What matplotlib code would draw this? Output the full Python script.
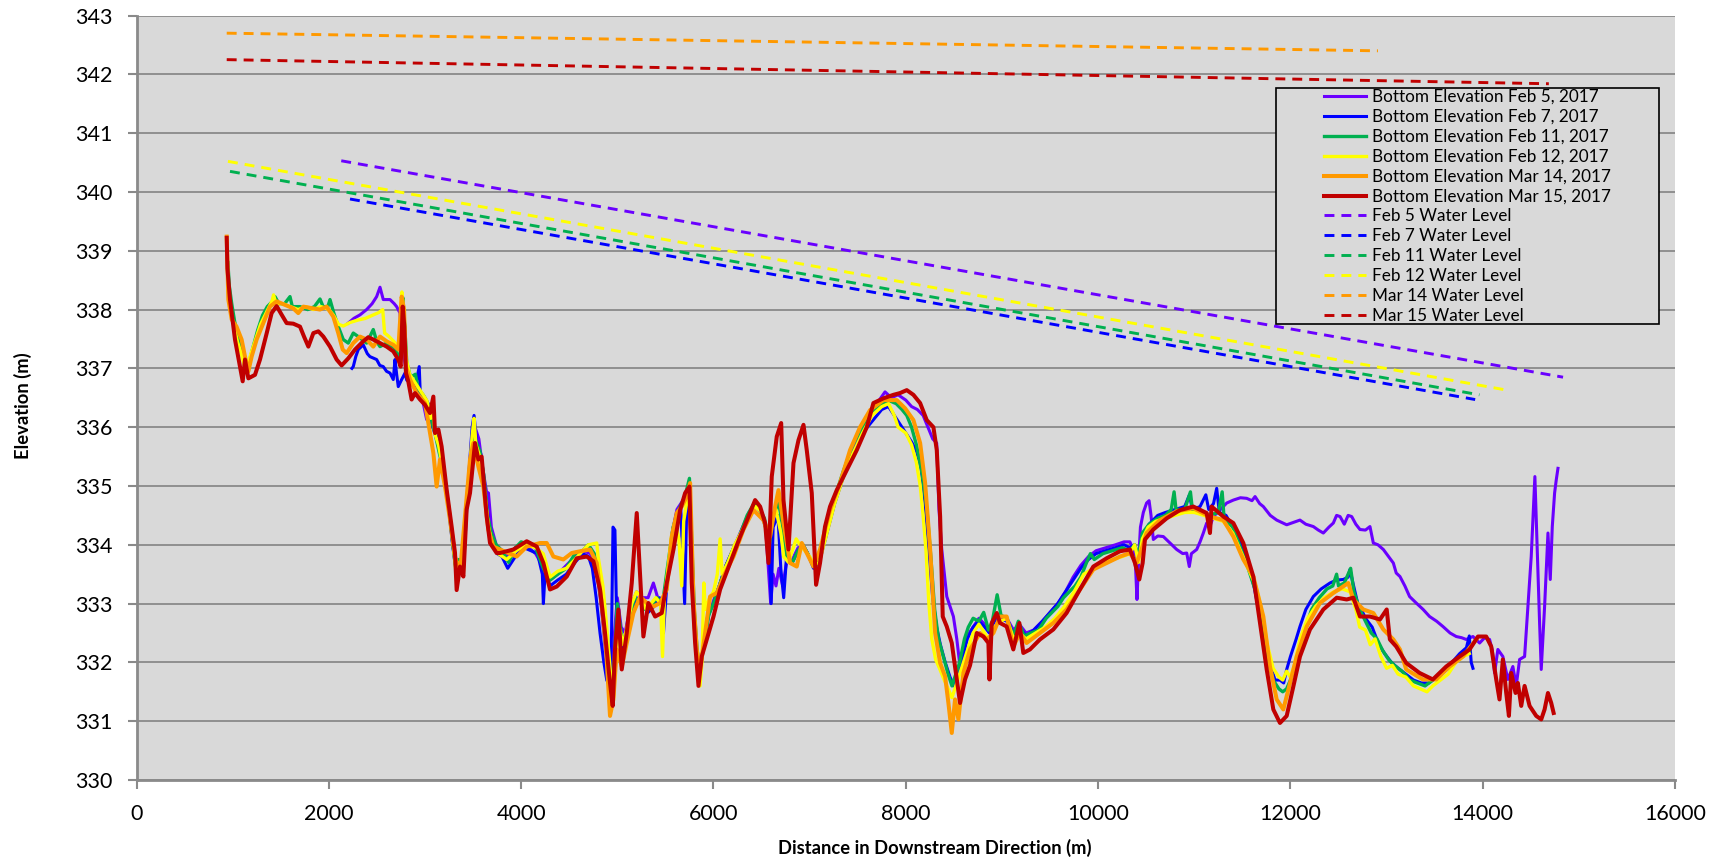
''' Bottom elevation profiles and water levels along the reach,
    surveyed on several dates in Feb/Mar 2017 '''

import matplotlib
matplotlib.use("Agg")
import matplotlib.pyplot as plt
from matplotlib.patches import Rectangle

# bed profiles: (distance m, elevation m)
feb5_bed = [(2202, 337.77), (2260, 337.85), (2324, 337.91), (2393, 338.0), (2450, 338.1), (2497, 338.22),
            (2532, 338.38), (2566, 338.17), (2636, 338.17), (2680, 338.1), (2705, 338.05), (2740, 337.94),
            (2750, 337.6), (2770, 337.3), (2800, 337.0), (2840, 336.8), (2880, 336.7), (2920, 336.6),
            (2970, 336.5), (3017, 336.13), (3040, 336.3), (3080, 336.0), (3120, 335.8), (3160, 335.55),
            (3200, 335.2), (3250, 334.6), (3290, 334.0), (3320, 333.6), (3350, 333.7), (3390, 333.6),
            (3420, 334.5), (3460, 335.2), (3490, 335.9), (3520, 336.0), (3560, 335.8), (3600, 335.3),
            (3640, 334.9), (3660, 334.88), (3690, 334.3), (3740, 334.0), (3800, 333.9), (3870, 333.8),
            (3940, 333.95), (4000, 334.0), (4080, 333.95), (4150, 333.85), (4220, 333.65), (4300, 333.4),
            (4380, 333.5), (4470, 333.65), (4560, 333.8), (4640, 333.9), (4720, 333.85), (4780, 333.6),
            (4830, 333.0), (4870, 332.3), (4910, 331.8), (4940, 331.8), (4970, 332.5), (5000, 333.1),
            (5040, 332.6), (5080, 332.5), (5130, 332.9), (5200, 333.2), (5260, 333.1), (5320, 333.1),
            (5375, 333.35), (5420, 333.1), (5470, 332.95), (5520, 333.5), (5570, 334.2), (5620, 334.6),
            (5660, 334.7), (5700, 334.8), (5740, 334.9), (5775, 333.8), (5800, 332.8), (5830, 332.1),
            (5860, 331.9), (5900, 332.3), (5950, 332.8), (6000, 333.05), (6060, 333.3), (6130, 333.65),
            (6210, 333.95), (6290, 334.25), (6370, 334.55), (6430, 334.7), (6490, 334.6), (6540, 334.35),
            (6570, 333.6), (6595, 333.0), (6620, 333.5), (6650, 333.3), (6680, 333.6), (6720, 333.3),
            (6760, 333.7), (6820, 333.75), (6880, 333.95), (6930, 334.0), (6980, 333.85), (7040, 333.65),
            (7100, 333.75), (7180, 334.25), (7260, 334.75), (7350, 335.2), (7450, 335.65), (7550, 336.0),
            (7650, 336.3), (7720, 336.45), (7784, 336.6), (7850, 336.5), (7920, 336.55), (8000, 336.46),
            (8060, 336.35), (8120, 336.3), (8180, 336.2), (8230, 336.0), (8280, 335.8), (8321, 335.73),
            (8345, 334.6), (8374, 333.92), (8426, 333.12), (8495, 332.78), (8530, 332.4), (8564, 331.93),
            (8600, 332.1), (8634, 332.44), (8700, 332.6), (8760, 332.75), (8820, 332.65), (8870, 332.5),
            (8920, 332.7), (8980, 332.8), (9050, 332.75), (9120, 332.55), (9180, 332.65), (9250, 332.5),
            (9330, 332.55), (9420, 332.7), (9500, 332.85), (9580, 333.0), (9660, 333.2), (9740, 333.45),
            (9820, 333.65), (9900, 333.8), (9980, 333.9), (10080, 333.95), (10180, 334.0), (10270, 334.05),
            (10330, 334.05), (10370, 333.9), (10390, 333.6), (10404, 333.07), (10420, 333.7), (10440, 334.3),
            (10470, 334.55), (10504, 334.71), (10530, 334.75), (10550, 334.5), (10574, 334.09), (10620, 334.15),
            (10678, 334.14), (10747, 334.03), (10817, 333.92), (10880, 333.85), (10921, 333.86), (10948, 333.63),
            (10970, 333.85), (11025, 333.92), (11060, 334.05), (11094, 334.2), (11129, 334.37), (11160, 334.3),
            (11198, 334.48), (11267, 334.59), (11337, 334.71), (11406, 334.76), (11480, 334.8), (11545, 334.79),
            (11600, 334.75), (11632, 334.82), (11680, 334.7), (11718, 334.65), (11790, 334.5), (11857, 334.42),
            (11910, 334.38), (11961, 334.34), (12030, 334.38), (12099, 334.42), (12160, 334.35), (12238, 334.31),
            (12290, 334.25), (12342, 334.2), (12400, 334.3), (12446, 334.37), (12480, 334.5), (12516, 334.48),
            (12560, 334.35), (12600, 334.5), (12637, 334.48), (12680, 334.35), (12723, 334.26), (12780, 334.25),
            (12827, 334.31), (12862, 334.03), (12910, 334.0), (12966, 333.92), (13020, 333.8), (13070, 333.69),
            (13100, 333.52), (13139, 333.46), (13190, 333.3), (13239, 333.12), (13308, 333.01), (13380, 332.9),
            (13447, 332.78), (13520, 332.7), (13586, 332.61), (13660, 332.5), (13724, 332.44), (13780, 332.42),
            (13828, 332.39), (13898, 332.44), (13967, 332.33), (14020, 332.42), (14071, 332.39), (14100, 332.2),
            (14123, 331.82), (14157, 332.22), (14209, 332.1), (14261, 331.71), (14313, 331.93), (14348, 331.6),
            (14383, 332.05), (14435, 332.1), (14469, 332.95), (14504, 333.8), (14528, 334.65), (14542, 335.16),
            (14563, 334.08), (14591, 332.67), (14608, 331.88), (14643, 332.95), (14678, 334.2), (14702, 333.41),
            (14723, 334.31), (14747, 334.88), (14764, 335.1), (14782, 335.3)]

feb7_bed = [(2240, 337.0), (2254, 337.03), (2280, 337.2), (2306, 337.32), (2358, 337.4), (2400, 337.25),
            (2427, 337.2), (2497, 337.15), (2530, 337.05), (2566, 337.03), (2600, 336.95), (2636, 336.92),
            (2670, 336.81), (2688, 337.15), (2705, 336.9), (2722, 336.69), (2757, 336.81), (2792, 336.92),
            (2810, 336.8), (2850, 336.75), (2900, 336.7), (2940, 337.03), (2950, 336.6), (3000, 336.5),
            (3050, 336.35), (3080, 336.0), (3110, 335.9), (3150, 335.65), (3190, 335.3), (3240, 334.7),
            (3280, 334.1), (3310, 333.7), (3340, 333.5), (3370, 333.6), (3400, 333.6), (3430, 334.5),
            (3460, 335.3), (3490, 336.0), (3510, 336.2), (3540, 335.7), (3580, 335.55), (3620, 335.0),
            (3660, 334.4), (3700, 334.0), (3750, 333.85), (3800, 333.8), (3860, 333.6), (3900, 333.7),
            (3960, 333.85), (4030, 333.95), (4100, 333.9), (4170, 333.85), (4220, 333.5), (4231, 333.0),
            (4250, 333.55), (4300, 333.3), (4380, 333.4), (4470, 333.5), (4560, 333.7), (4640, 333.85),
            (4700, 333.8), (4740, 333.6), (4780, 333.1), (4820, 332.5), (4860, 332.0), (4890, 331.7),
            (4920, 331.6), (4940, 332.5), (4955, 334.3), (4975, 334.25), (4990, 333.0), (5020, 332.6),
            (5060, 332.2), (5100, 332.5), (5150, 332.9), (5200, 333.1), (5260, 333.0), (5320, 332.85),
            (5380, 332.95), (5440, 333.1), (5480, 332.5), (5510, 333.2), (5560, 334.0), (5610, 334.5),
            (5660, 334.6), (5700, 333.0), (5720, 334.5), (5750, 334.8), (5775, 334.0), (5800, 332.6),
            (5830, 332.0), (5860, 331.8), (5890, 332.2), (5940, 332.8), (6000, 333.0), (6060, 333.3),
            (6130, 333.65), (6210, 333.95), (6290, 334.2), (6370, 334.5), (6430, 334.7), (6490, 334.55),
            (6540, 334.3), (6580, 333.9), (6600, 333.0), (6620, 334.3), (6670, 334.5), (6700, 333.6),
            (6730, 333.1), (6760, 333.8), (6820, 333.7), (6880, 333.9), (6930, 334.0), (6980, 333.85),
            (7040, 333.6), (7100, 333.7), (7180, 334.2), (7260, 334.7), (7350, 335.15), (7450, 335.55),
            (7550, 335.9), (7650, 336.1), (7750, 336.3), (7820, 336.35), (7880, 336.2), (7940, 336.05),
            (8000, 335.9), (8060, 335.75), (8110, 335.6), (8160, 335.3), (8200, 334.7), (8240, 333.9),
            (8280, 333.1), (8320, 332.6), (8360, 332.3), (8410, 332.0), (8460, 331.75), (8500, 331.6),
            (8540, 331.8), (8590, 332.1), (8640, 332.4), (8700, 332.6), (8760, 332.7), (8820, 332.6),
            (8870, 332.5), (8920, 332.7), (8980, 332.75), (9050, 332.7), (9120, 332.5), (9180, 332.6),
            (9250, 332.45), (9330, 332.55), (9420, 332.7), (9500, 332.85), (9580, 333.0), (9660, 333.2),
            (9740, 333.4), (9820, 333.6), (9900, 333.75), (9980, 333.85), (10080, 333.9), (10180, 333.95),
            (10270, 334.0), (10330, 333.95), (10380, 334.0), (10420, 333.75), (10460, 334.15), (10530, 334.35),
            (10620, 334.5), (10700, 334.55), (10800, 334.6), (10900, 334.65), (10950, 334.85), (10980, 334.6),
            (11060, 334.65), (11120, 334.85), (11150, 334.6), (11200, 334.7), (11233, 334.96), (11260, 334.55),
            (11330, 334.5), (11400, 334.3), (11450, 334.2), (11490, 334.0), (11550, 333.7), (11620, 333.3),
            (11680, 332.8), (11740, 332.3), (11790, 331.95), (11840, 331.7), (11890, 331.7), (11930, 331.65),
            (11961, 331.88), (12000, 332.1), (12060, 332.4), (12099, 332.61), (12160, 332.9), (12238, 333.12),
            (12320, 333.25), (12411, 333.35), (12480, 333.4), (12550, 333.41), (12600, 333.45), (12619, 333.58),
            (12650, 333.35), (12700, 333.0), (12723, 332.95), (12780, 332.75), (12850, 332.6), (12920, 332.3),
            (12980, 332.15), (13050, 332.0), (13120, 331.9), (13200, 331.8), (13280, 331.7), (13360, 331.65),
            (13440, 331.65), (13520, 331.75), (13600, 331.85), (13680, 332.0), (13760, 332.15), (13830, 332.25),
            (13860, 332.45), (13880, 332.0), (13898, 331.9)]

feb11_bed = [(950, 338.8), (965, 338.4), (990, 338.1), (1020, 337.8), (1060, 337.5), (1100, 337.25),
             (1140, 337.05), (1170, 337.1), (1210, 337.35), (1260, 337.65), (1310, 337.9), (1360, 338.05),
             (1420, 338.15), (1440, 338.22), (1480, 338.1), (1540, 338.1), (1596, 338.22), (1620, 338.05),
             (1700, 338.05), (1780, 338.0), (1850, 338.05), (1908, 338.18), (1940, 338.05), (1990, 338.05),
             (2012, 338.17), (2050, 337.95), (2098, 337.71), (2150, 337.49), (2202, 337.43), (2254, 337.6),
             (2306, 337.54), (2393, 337.43), (2462, 337.66), (2500, 337.45), (2532, 337.37), (2601, 337.43),
             (2680, 337.35), (2740, 337.15), (2770, 338.2), (2790, 337.7), (2810, 337.1), (2850, 336.85),
             (2900, 336.9), (2930, 336.65), (2980, 336.55), (3030, 336.4), (3070, 336.1), (3110, 335.85),
             (3150, 335.55), (3200, 335.2), (3250, 334.6), (3290, 334.0), (3320, 333.6), (3350, 333.75),
             (3390, 333.65), (3420, 334.4), (3460, 335.15), (3500, 335.9), (3530, 335.75), (3570, 335.6),
             (3610, 335.2), (3650, 334.5), (3690, 334.2), (3740, 334.0), (3800, 333.9), (3870, 333.7),
             (3940, 333.95), (4000, 334.05), (4080, 334.0), (4150, 333.95), (4230, 333.6), (4300, 333.4),
             (4380, 333.5), (4470, 333.6), (4560, 333.85), (4640, 333.9), (4700, 334.0), (4760, 333.85),
             (4800, 333.5), (4850, 332.8), (4890, 332.1), (4920, 331.7), (4950, 331.55), (4980, 332.4),
             (5000, 333.0), (5040, 332.5), (5080, 332.3), (5130, 332.8), (5180, 333.1), (5230, 333.05),
             (5290, 332.9), (5350, 332.95), (5410, 333.1), (5470, 333.0), (5520, 333.6), (5580, 334.3),
             (5640, 334.6), (5700, 334.8), (5750, 335.13), (5775, 334.0), (5800, 332.9), (5830, 332.2),
             (5860, 331.9), (5900, 332.3), (5950, 332.8), (6000, 333.0), (6060, 333.3), (6120, 333.6),
             (6200, 333.9), (6270, 334.15), (6350, 334.5), (6420, 334.7), (6480, 334.6), (6530, 334.45),
             (6580, 334.0), (6620, 334.5), (6680, 334.7), (6720, 334.3), (6760, 333.8), (6820, 333.7),
             (6880, 333.9), (6930, 334.0), (6980, 333.85), (7040, 333.65), (7100, 333.75), (7180, 334.3),
             (7260, 334.8), (7350, 335.25), (7450, 335.7), (7550, 336.0), (7650, 336.25), (7750, 336.4),
             (7830, 336.45), (7900, 336.4), (7960, 336.3), (8010, 336.2), (8060, 336.0), (8110, 335.7),
             (8170, 335.2), (8220, 334.6), (8260, 333.8), (8300, 332.9), (8340, 332.4), (8390, 332.1),
             (8440, 331.8), (8480, 331.6), (8520, 331.8), (8560, 332.0), (8610, 332.4), (8650, 332.6),
             (8700, 332.75), (8760, 332.7), (8810, 332.85), (8860, 332.55), (8900, 332.7), (8950, 333.15),
             (8990, 332.8), (9050, 332.75), (9120, 332.45), (9170, 332.7), (9230, 332.45), (9300, 332.5),
             (9380, 332.55), (9460, 332.75), (9520, 332.85), (9580, 332.95), (9640, 333.1), (9700, 333.2),
             (9760, 333.3), (9820, 333.45), (9880, 333.7), (9920, 333.85), (9960, 333.75), (10050, 333.85),
             (10150, 333.9), (10250, 333.95), (10330, 333.9), (10380, 334.0), (10420, 333.8), (10460, 334.2),
             (10530, 334.35), (10620, 334.45), (10700, 334.5), (10760, 334.6), (10790, 334.9), (10810, 334.6),
             (10900, 334.6), (10960, 334.9), (10980, 334.6), (11050, 334.6), (11150, 334.5), (11250, 334.55),
             (11290, 334.9), (11310, 334.45), (11400, 334.3), (11480, 333.95), (11560, 333.6), (11640, 333.2),
             (11700, 332.7), (11760, 332.1), (11820, 331.7), (11880, 331.55), (11920, 331.5), (11960, 331.55),
             (12000, 331.7), (12060, 332.0), (12140, 332.5), (12220, 332.9), (12300, 333.1), (12380, 333.25),
             (12440, 333.3), (12480, 333.5), (12500, 333.3), (12560, 333.35), (12626, 333.6), (12660, 333.2),
             (12720, 332.9), (12780, 332.7), (12840, 332.5), (12900, 332.4), (12960, 332.2), (13020, 332.05),
             (13080, 331.95), (13160, 331.85), (13240, 331.7), (13320, 331.65), (13400, 331.6), (13480, 331.7),
             (13560, 331.8), (13640, 331.9), (13720, 332.05), (13800, 332.15), (13860, 332.2)]

feb12_bed = [(955, 338.3), (975, 338.0), (1010, 337.75), (1050, 337.45), (1090, 337.25), (1120, 337.05),
             (1150, 337.0), (1180, 337.2), (1230, 337.45), (1290, 337.75), (1350, 337.95), (1410, 338.15),
             (1425, 338.25), (1450, 338.1), (1520, 338.1), (1600, 338.05), (1680, 338.0), (1760, 338.05),
             (1840, 338.0), (1920, 338.05), (2000, 338.0), (2050, 337.9), (2100, 337.75), (2150, 337.72),
             (2220, 337.78), (2300, 337.82), (2380, 337.85), (2450, 337.9), (2520, 337.95), (2560, 338.0),
             (2580, 337.6), (2620, 337.55), (2680, 337.45), (2730, 337.35), (2760, 338.3), (2780, 337.95),
             (2800, 337.2), (2840, 336.9), (2900, 336.75), (2960, 336.6), (3020, 336.45), (3060, 336.15),
             (3085, 336.45), (3100, 335.9), (3140, 335.7), (3175, 335.4), (3210, 335.05), (3260, 334.5),
             (3300, 333.9), (3330, 333.4), (3360, 333.7), (3400, 333.55), (3430, 334.7), (3460, 335.2),
             (3490, 335.85), (3510, 336.15), (3530, 335.7), (3560, 335.55), (3590, 335.35), (3620, 334.9),
             (3660, 334.3), (3700, 334.0), (3760, 333.85), (3850, 333.75), (3950, 333.9), (4050, 334.0),
             (4150, 333.95), (4230, 333.85), (4300, 333.45), (4380, 333.55), (4470, 333.6), (4560, 333.75),
             (4640, 333.9), (4700, 334.0), (4786, 334.03), (4800, 333.8), (4850, 333.3), (4890, 332.6),
             (4930, 331.8), (4960, 331.4), (4990, 332.2), (5020, 332.6), (5060, 332.3), (5100, 332.6),
             (5150, 333.0), (5200, 333.2), (5250, 333.1), (5300, 332.9), (5350, 333.0), (5400, 333.1),
             (5450, 333.0), (5470, 332.1), (5490, 333.1), (5520, 333.5), (5560, 334.1), (5600, 334.4),
             (5640, 334.1), (5670, 333.3), (5690, 334.4), (5720, 334.7), (5750, 334.9), (5770, 333.8),
             (5800, 332.6), (5830, 332.0), (5860, 331.6), (5880, 332.0), (5900, 333.35), (5915, 332.9),
             (5960, 333.1), (6000, 333.2), (6040, 333.5), (6069, 334.1), (6090, 333.5), (6150, 333.7),
             (6220, 334.0), (6300, 334.25), (6380, 334.5), (6440, 334.65), (6500, 334.55), (6540, 334.3),
             (6570, 333.9), (6600, 334.4), (6650, 334.6), (6700, 334.2), (6730, 333.8), (6780, 333.7),
             (6820, 333.9), (6860, 334.1), (6900, 334.0), (6950, 333.9), (7000, 333.8), (7050, 333.65),
             (7100, 333.7), (7180, 334.2), (7260, 334.7), (7350, 335.15), (7450, 335.55), (7550, 335.9),
             (7650, 336.2), (7750, 336.35), (7820, 336.4), (7880, 336.2), (7920, 336.0), (7960, 335.95),
             (8000, 335.9), (8060, 335.7), (8110, 335.4), (8150, 335.0), (8180, 334.5), (8210, 333.9),
             (8240, 333.0), (8270, 332.4), (8310, 332.05), (8350, 331.9), (8400, 331.7), (8440, 331.55),
             (8480, 331.4), (8520, 331.6), (8560, 331.8), (8600, 332.0), (8640, 332.2), (8700, 332.5),
             (8760, 332.65), (8820, 332.5), (8870, 332.35), (8920, 332.6), (8980, 332.7), (9050, 332.75),
             (9120, 332.4), (9180, 332.5), (9250, 332.4), (9350, 332.5), (9450, 332.6), (9550, 332.75),
             (9650, 332.95), (9750, 333.2), (9850, 333.5), (9950, 333.6), (10050, 333.7), (10150, 333.75),
             (10250, 333.8), (10330, 333.85), (10380, 334.0), (10420, 333.7), (10460, 334.1), (10520, 334.3),
             (10600, 334.4), (10700, 334.45), (10800, 334.5), (10900, 334.55), (11000, 334.55), (11100, 334.5),
             (11200, 334.45), (11300, 334.4), (11400, 334.2), (11480, 333.9), (11560, 333.6), (11640, 333.3),
             (11700, 332.9), (11760, 332.3), (11820, 331.9), (11880, 331.75), (11920, 331.7), (11960, 331.85),
             (12000, 331.75), (12040, 331.95), (12100, 332.4), (12180, 332.75), (12260, 332.95), (12350, 333.1),
             (12450, 333.2), (12540, 333.25), (12620, 333.2), (12680, 332.9), (12720, 332.6), (12780, 332.55),
             (12830, 332.3), (12880, 332.4), (12940, 332.1), (13000, 331.9), (13060, 331.95), (13120, 331.8),
             (13200, 331.75), (13280, 331.6), (13350, 331.55), (13420, 331.5), (13480, 331.6), (13560, 331.7),
             (13640, 331.8), (13720, 332.0), (13800, 332.1), (13860, 332.15)]

mar14_bed = [(938, 339.24), (955, 338.17), (990, 337.83), (1040, 337.71), (1093, 337.49), (1128, 337.2),
             (1163, 336.95), (1197, 337.2), (1249, 337.49), (1318, 337.77), (1388, 338.05), (1457, 338.14),
             (1544, 338.08), (1630, 338.02), (1682, 337.94), (1735, 338.05), (1839, 338.02), (1908, 338.0),
             (1977, 338.05), (2046, 337.88), (2098, 337.6), (2144, 337.32), (2185, 337.26), (2254, 337.43),
             (2324, 337.54), (2393, 337.49), (2462, 337.37), (2532, 337.54), (2601, 337.46), (2670, 337.4),
             (2722, 337.32), (2757, 338.22), (2782, 338.0), (2802, 337.03), (2844, 336.81), (2913, 336.58),
             (3000, 336.41), (3052, 335.9), (3087, 335.56), (3121, 334.99), (3156, 335.45), (3208, 334.99),
             (3260, 334.43), (3312, 333.8), (3364, 333.52), (3416, 334.48), (3468, 335.45), (3503, 335.73),
             (3555, 335.33), (3607, 334.99), (3659, 334.26), (3711, 333.97), (3780, 333.92), (3953, 333.8),
             (4058, 333.97), (4197, 334.03), (4266, 334.03), (4335, 333.8), (4439, 333.75), (4526, 333.86),
             (4613, 333.89), (4717, 333.92), (4786, 333.69), (4838, 333.01), (4883, 332.22), (4924, 331.09),
             (4959, 331.37), (4994, 332.22), (5046, 331.93), (5098, 332.33), (5167, 332.84), (5237, 333.12),
             (5306, 333.01), (5375, 332.95), (5445, 333.01), (5514, 333.24), (5566, 334.14), (5618, 334.54),
             (5670, 334.65), (5722, 334.82), (5757, 335.05), (5792, 333.07), (5826, 332.22), (5861, 331.88),
             (5913, 332.5), (5965, 333.12), (6035, 333.18), (6104, 333.46), (6208, 333.8), (6312, 334.26),
             (6416, 334.59), (6520, 334.42), (6589, 334.14), (6641, 334.65), (6676, 334.93), (6728, 334.37),
             (6797, 333.69), (6866, 333.63), (6918, 334.03), (6970, 333.86), (7040, 333.63), (7108, 333.92),
             (7212, 334.59), (7316, 335.05), (7420, 335.61), (7524, 336.0), (7628, 336.29), (7767, 336.46),
             (7906, 336.46), (7993, 336.32), (8079, 336.12), (8149, 335.73), (8201, 335.05), (8253, 333.92),
             (8305, 332.5), (8357, 331.99), (8409, 331.76), (8443, 331.31), (8478, 330.8), (8512, 331.37),
             (8547, 331.03), (8599, 331.82), (8668, 332.22), (8772, 332.5), (8842, 332.39), (8911, 332.5),
             (8980, 332.78), (9049, 332.78), (9118, 332.27), (9187, 332.5), (9256, 332.33), (9395, 332.5),
             (9534, 332.67), (9672, 332.9), (9811, 333.24), (9950, 333.58), (10088, 333.69), (10227, 333.8),
             (10331, 333.86), (10400, 333.69), (10452, 333.92), (10504, 334.2), (10643, 334.42), (10817, 334.57),
             (10990, 334.62), (11163, 334.48), (11302, 334.42), (11406, 334.14), (11510, 333.75), (11614, 333.46),
             (11718, 332.78), (11787, 331.93), (11857, 331.37), (11926, 331.2), (11995, 331.65), (12065, 332.1),
             (12169, 332.61), (12307, 333.01), (12446, 333.18), (12602, 333.35), (12654, 333.07), (12758, 332.9),
             (12862, 332.84), (12966, 332.56), (13070, 332.39), (13139, 332.22), (13204, 331.88), (13377, 331.71),
             (13516, 331.71), (13655, 331.93), (13794, 332.1), (13932, 332.39)]

mar15_bed = [(938, 339.22), (945, 338.7), (972, 338.17), (1024, 337.49), (1076, 337.03), (1104, 336.78),
             (1128, 337.15), (1163, 336.83), (1232, 336.89), (1284, 337.15), (1354, 337.6), (1405, 337.94),
             (1457, 338.06), (1510, 337.91), (1561, 337.77), (1630, 337.76), (1700, 337.71), (1742, 337.54),
             (1787, 337.37), (1839, 337.6), (1891, 337.63), (1943, 337.54), (2012, 337.37), (2081, 337.15),
             (2133, 337.05), (2202, 337.17), (2272, 337.32), (2358, 337.46), (2410, 337.53), (2462, 337.49),
             (2532, 337.43), (2601, 337.37), (2670, 337.29), (2722, 337.15), (2747, 337.03), (2768, 338.05),
             (2785, 337.71), (2802, 336.92), (2826, 336.78), (2861, 336.47), (2896, 336.58), (2948, 336.47),
             (3000, 336.38), (3052, 336.24), (3087, 336.52), (3104, 335.9), (3139, 335.96), (3173, 335.67),
             (3225, 334.94), (3277, 334.31), (3312, 333.86), (3329, 333.23), (3364, 333.63), (3399, 333.46),
             (3433, 334.6), (3468, 334.88), (3520, 335.73), (3555, 335.45), (3589, 335.5), (3641, 334.48),
             (3676, 334.03), (3745, 333.86), (3780, 333.86), (3919, 333.92), (4058, 334.06), (4162, 333.97),
             (4231, 333.69), (4300, 333.24), (4370, 333.29), (4474, 333.46), (4578, 333.77), (4682, 333.8),
             (4751, 333.72), (4820, 333.24), (4872, 332.5), (4924, 331.65), (4952, 331.26), (4976, 332.22),
             (5011, 332.9), (5046, 331.88), (5098, 332.5), (5150, 333.35), (5202, 334.54), (5237, 333.46),
             (5271, 332.44), (5323, 333.01), (5393, 332.78), (5462, 332.84), (5514, 333.35), (5584, 333.92),
             (5653, 334.59), (5705, 334.88), (5750, 334.99), (5774, 333.35), (5809, 332.33), (5844, 331.6),
             (5878, 332.1), (5930, 332.39), (6000, 332.78), (6069, 333.24), (6173, 333.69), (6277, 334.14),
             (6364, 334.48), (6433, 334.76), (6485, 334.65), (6537, 334.37), (6572, 333.69), (6606, 335.16),
             (6658, 335.84), (6704, 336.07), (6728, 334.76), (6780, 333.92), (6832, 335.39), (6884, 335.78),
             (6936, 336.04), (6970, 335.61), (7022, 334.88), (7067, 333.32), (7108, 333.69), (7160, 334.31),
             (7212, 334.65), (7282, 334.93), (7386, 335.27), (7490, 335.61), (7594, 336.0), (7663, 336.41),
             (7767, 336.49), (7871, 336.55), (7940, 336.58), (8010, 336.63), (8079, 336.55), (8149, 336.41),
             (8218, 336.12), (8287, 336.0), (8322, 335.61), (8357, 334.48), (8384, 332.78), (8426, 332.61),
             (8478, 332.33), (8512, 331.93), (8564, 331.31), (8616, 331.71), (8668, 331.95), (8738, 332.5),
             (8807, 332.44), (8859, 332.33), (8870, 331.71), (8894, 332.67), (8946, 332.84), (8980, 332.67),
             (9049, 332.61), (9118, 332.22), (9181, 332.67), (9222, 332.16), (9291, 332.22), (9395, 332.39),
             (9534, 332.56), (9672, 332.84), (9811, 333.24), (9950, 333.63), (10088, 333.77), (10227, 333.89),
             (10331, 333.92), (10383, 333.69), (10428, 333.41), (10463, 333.69), (10487, 334.09), (10574, 334.26),
             (10713, 334.45), (10851, 334.59), (10990, 334.65), (11129, 334.54), (11163, 334.2), (11180, 334.65),
             (11302, 334.48), (11406, 334.37), (11510, 334.03), (11614, 333.46), (11683, 332.67), (11753, 331.88),
             (11822, 331.2), (11891, 330.97), (11961, 331.09), (12030, 331.59), (12099, 332.1), (12203, 332.56),
             (12342, 332.9), (12481, 333.1), (12585, 333.07), (12654, 333.1), (12723, 332.78), (12827, 332.78),
             (12931, 332.73), (13001, 332.9), (13034, 332.39), (13100, 332.27), (13204, 331.99), (13343, 331.82),
             (13481, 331.71), (13620, 331.93), (13759, 332.1), (13863, 332.22), (13950, 332.44), (14036, 332.44),
             (14088, 332.27), (14140, 331.71), (14174, 331.37), (14209, 332.05), (14244, 331.48), (14272, 331.09),
             (14296, 331.82), (14341, 331.48), (14365, 331.65), (14400, 331.26), (14435, 331.6), (14487, 331.26),
             (14556, 331.09), (14608, 331.03), (14643, 331.2), (14678, 331.48), (14712, 331.31), (14737, 331.14)]

# water surface: start/end distance and level for each survey
wl_feb5 = [(2129, 340.53), (14835, 336.85)]
wl_feb7 = [(2220, 339.88), (13921, 336.47)]
wl_feb11 = [(972, 340.35), (13965, 336.55)]
wl_feb12 = [(951, 340.52), (14285, 336.62)]
wl_mar14 = [(938, 342.70), (12910, 342.40)]
wl_mar15 = [(938, 342.25), (14687, 341.84)]

dates = ["Feb 5", "Feb 7", "Feb 11", "Feb 12", "Mar 14", "Mar 15"]
colors = ["#6A00FF", "#0000FF", "#00B050", "#FFFF00", "#FF9900", "#C00000"]
beds = [feb5_bed, feb7_bed, feb11_bed, feb12_bed, mar14_bed, mar15_bed]
levels = [wl_feb5, wl_feb7, wl_feb11, wl_feb12, wl_mar14, wl_mar15]
bed_widths = [2.2, 2.2, 2.4, 2.4, 2.9, 2.9]

plt.rcParams['font.family'] = ['Lato', 'DejaVu Sans']

fig = plt.figure(figsize=(17.26, 8.58), dpi=100)
ax = fig.add_axes([0.0791, 0.0909, 0.8914, 0.891])
ax.set_facecolor("#D9D9D9")

for d, c, bed, w in zip(dates, colors, beds, bed_widths):
    xs = [p[0] for p in bed]
    ys = [p[1] for p in bed]
    ax.plot(xs, ys, color=c, lw=w, solid_joinstyle="round",
            label=f"Bottom Elevation {d}, 2017")

for d, c, wl in zip(dates, colors, levels):
    xs = [p[0] for p in wl]
    ys = [p[1] for p in wl]
    ax.plot(xs, ys, color=c, lw=2.1, dashes=(3.4, 2.4), label=f"{d} Water Level")

ax.set_xlim(0, 16000)
ax.set_ylim(330, 343)
ax.set_xticks(range(0, 16001, 2000))
ax.set_yticks(range(330, 344))
ax.grid(axis="y", color="#8A8A8A", lw=1.3)
ax.set_axisbelow(True)
for s in ["top", "right"]:
    ax.spines[s].set_visible(False)
for s in ["left", "bottom"]:
    ax.spines[s].set_color("#8A8A8A")
    ax.spines[s].set_linewidth(2)
ax.tick_params(axis="both", colors="#8A8A8A", width=1.5, length=6.5,
               labelsize=15.5, labelcolor="black", pad=11)

ax.set_xlabel("Distance in Downstream Direction (m)", fontsize=13.2, fontweight="bold")
ax.set_ylabel("Elevation (m)", fontsize=13.2, fontweight="bold")
ax.xaxis.set_label_coords(0.519, -0.077)
ax.yaxis.set_label_coords(-0.068, 0.49)

# legend drawn frameless, box added separately
ax.add_patch(Rectangle((0.7407, 0.5965), 0.2489, 0.3087, transform=ax.transAxes,
                       facecolor="#D9D9D9", edgecolor="black", lw=1.2, zorder=4))
leg = ax.legend(loc="upper left", bbox_to_anchor=(0.7715, 0.9041), frameon=False,
                fontsize=12.3, handlelength=2.5, handletextpad=0.35, labelspacing=0.23,
                borderaxespad=0, borderpad=0)
leg.set_zorder(5)

fig.savefig("out.png", dpi=100)
